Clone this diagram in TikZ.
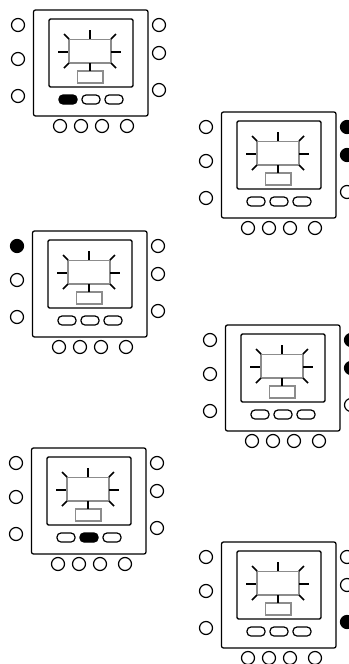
\documentclass[tikz,border=0pt]{standalone}
\tikzset{
  x=0.75pt,y=-0.75pt,
  housing/.style={draw=black,line width=0.95pt,rounded corners=1.5pt},
  panel/.style={draw=black,line width=1pt,rounded corners=1pt},
  lcd/.style={draw=black!45,line width=0.95pt},
  ray/.style={draw=black,line width=1.15pt},
  led/.style={draw=black,line width=0.9pt,fill=white},
  ledon/.style={draw=black,line width=0.9pt,fill=black},
  softkey/.style={draw=black,line width=0.9pt,rounded corners=3pt,fill=white},
  softkeyon/.style={draw=black,line width=0.9pt,rounded corners=3pt,fill=black},
}
% #1,#2 offset; #3 left-top style; #4,#5 right-top styles; #6 right-bottom; #7,#8,#9 key styles
\newcommand{\thermostat}[9]{%
\begin{scope}[shift={(#1,#2)}]
  \draw[housing] (33.5,10) rectangle (148,116);
  \draw[panel] (49,19) rectangle (133,87);
  \draw[lcd] (69,39.5) rectangle (111,63);
  \draw[lcd] (77.5,71) rectangle (103,83);
  \draw[ray] (90,30) -- (90,39);
  \draw[ray] (90,63) -- (90,71);
  \draw[ray] (58,52) -- (68,52);
  \draw[ray] (111,52) -- (121,52);
  \draw[ray] (64,34) -- (69,39);
  \draw[ray] (116,34) -- (111,39);
  \draw[ray] (69,63) -- (64,68);
  \draw[ray] (111,63) -- (116,68);
  \draw[#7] (59,95) rectangle (77,104);
  \draw[#8] (82,95) rectangle (100,104);
  \draw[#9] (105,95) rectangle (123,104);
  \draw[#3] (18,25) circle (6.5);
  \draw[led] (18,59) circle (6.5);
  \draw[led] (18,96) circle (6.5);
  \draw[#4] (159,25) circle (6.5);
  \draw[#5] (159,53) circle (6.5);
  \draw[#6] (159,90) circle (6.5);
  \draw[led] (60,126) circle (6.5);
  \draw[led] (81,126) circle (6.5);
  \draw[led] (102,126) circle (6.5);
  \draw[led] (127,126) circle (6.5);
\end{scope}}
\begin{document}
\begin{tikzpicture}
\useasboundingbox[fill=white] (0,0) rectangle (349,664);
\clip (0,0) rectangle (349,664);
\thermostat{0}{0}{led}{led}{led}{led}{softkeyon}{softkey}{softkey}
\thermostat{188}{102}{led}{ledon}{ledon}{led}{softkey}{softkey}{softkey}
\thermostat{-1}{221}{ledon}{led}{led}{led}{softkey}{softkey}{softkey}
\thermostat{192}{315}{led}{ledon}{ledon}{led}{softkey}{softkey}{softkey}
\thermostat{-2}{438}{led}{led}{led}{led}{softkey}{softkeyon}{softkey}
\thermostat{188}{532}{led}{led}{led}{ledon}{softkey}{softkey}{softkey}
\end{tikzpicture}
\end{document}
